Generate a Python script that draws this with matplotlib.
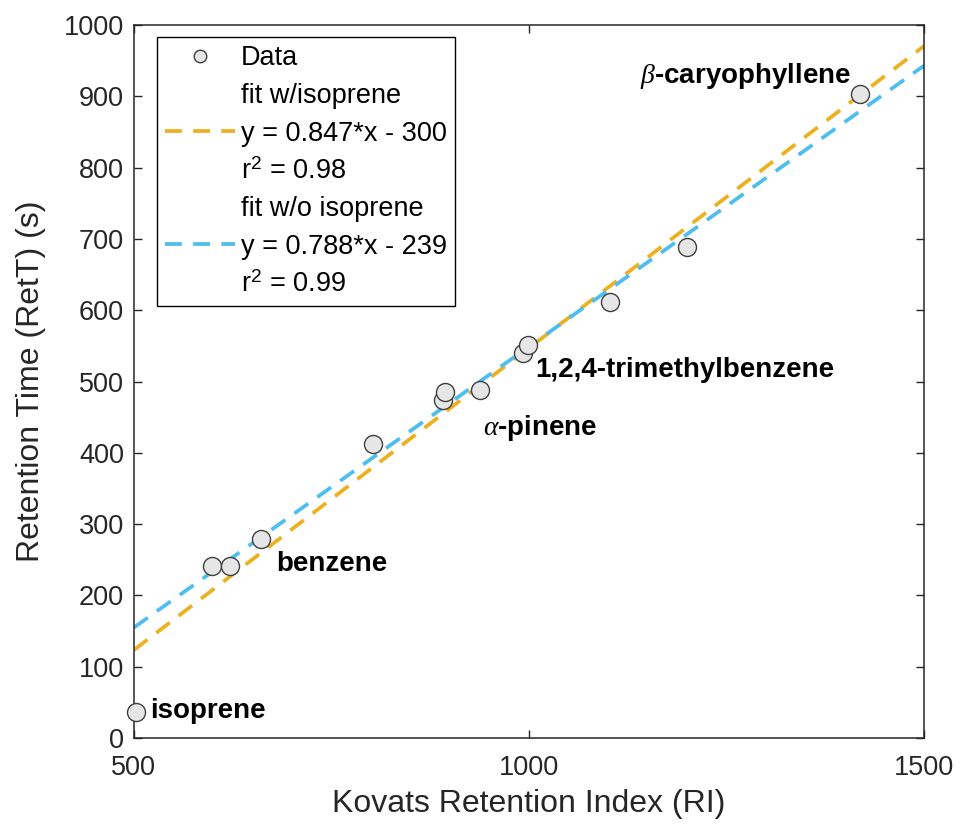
import matplotlib
matplotlib.use("Agg")
import matplotlib.pyplot as plt
from matplotlib.lines import Line2D

plt.rcParams["font.family"] = ["Liberation Sans", "DejaVu Sans"]
plt.rcParams["mathtext.fontset"] = "custom"
plt.rcParams["mathtext.rm"] = "Liberation Sans"
plt.rcParams["mathtext.it"] = "Liberation Serif:italic"

# retention index vs retention time
ri = [502.5, 598.7, 621.5, 660.4, 802, 891, 893.7, 938, 992.4, 998.7, 1102.5, 1200, 1419]
rett = [36.5, 241.7, 241.7, 279, 412, 473.5, 485, 488, 540, 551, 611.5, 688.6, 903]

# linear fits (slope, intercept, r^2)
fit_with = (0.847, -300, 0.98)
fit_without = (0.788, -239, 0.99)
fit_x = [500, 1500]

# compound labels: text, x, y
labels = [
    ("isoprene", 520, 38),
    ("benzene", 680, 244),
    (r"$\alpha$-pinene", 942, 435),
    ("1,2,4-trimethylbenzene", 1007.6, 516),
    (r"$\beta$-caryophyllene", 1140.5, 928),
]

orange = "#EDB120"
blue = "#4DBEEE"
grey = "#262626"

fig = plt.figure(figsize=(9.61, 8.31), dpi=100)
ax = fig.add_axes([0.1394, 0.1119, 0.8221, 0.858])

m, b, _ = fit_with
ax.plot(fit_x, [m * x + b for x in fit_x], color=orange, lw=2.7,
        dashes=(4.5, 3), zorder=2)
m, b, _ = fit_without
ax.plot(fit_x, [m * x + b for x in fit_x], color=blue, lw=2.7,
        dashes=(4.5, 3), zorder=2)
ax.plot(ri, rett, "o", ms=13, mfc="#e6e6e6", mec="#404040", mew=1.0,
        zorder=3, clip_on=False)

for txt, x, y in labels:
    ax.text(x, y, txt, fontsize=20, fontweight="bold", va="center", ha="left")

ax.set_xlim(500, 1500)
ax.set_ylim(0, 1000)
ax.set_xticks([500, 1000, 1500])
ax.set_yticks(range(0, 1001, 100))
ax.tick_params(direction="in", length=6, width=1, colors=grey,
               labelsize=19.5, top=True, right=True)
ax.tick_params(axis="x", pad=12)
ax.tick_params(axis="y", pad=7)
for s in ax.spines.values():
    s.set_color(grey)
    s.set_linewidth(1.1)

ax.set_xlabel("Kovats Retention Index (RI)", fontsize=23, color=grey, labelpad=6)
ax.set_ylabel("Retention Time (RetT) (s)", fontsize=23, color=grey, labelpad=13)

blank = Line2D([], [], linestyle="none")
handles = [
    Line2D([], [], linestyle="none", marker="o", ms=9, mfc="#e6e6e6", mec="#404040"),
    blank,
    Line2D([], [], color=orange, lw=2.7, dashes=(4.5, 3)),
    blank,
    blank,
    Line2D([], [], color=blue, lw=2.7, dashes=(4.5, 3)),
    blank,
]
texts = [
    "Data",
    "fit w/isoprene",
    "y = %.3f*x - %d" % (fit_with[0], -fit_with[1]),
    "r$^2$ = %.2f" % fit_with[2],
    "fit w/o isoprene",
    "y = %.3f*x - %d" % (fit_without[0], -fit_without[1]),
    "r$^2$ = %.2f" % fit_without[2],
]
leg = ax.legend(handles, texts, loc="upper left", bbox_to_anchor=(0.029, 0.983),
                borderaxespad=0, fontsize=19.5, fancybox=False, framealpha=1,
                edgecolor="black", handlelength=2.6, handletextpad=0.2,
                labelspacing=0.43, borderpad=0.3)
leg.get_frame().set_linewidth(1.0)

fig.savefig("out.png", dpi=100)
